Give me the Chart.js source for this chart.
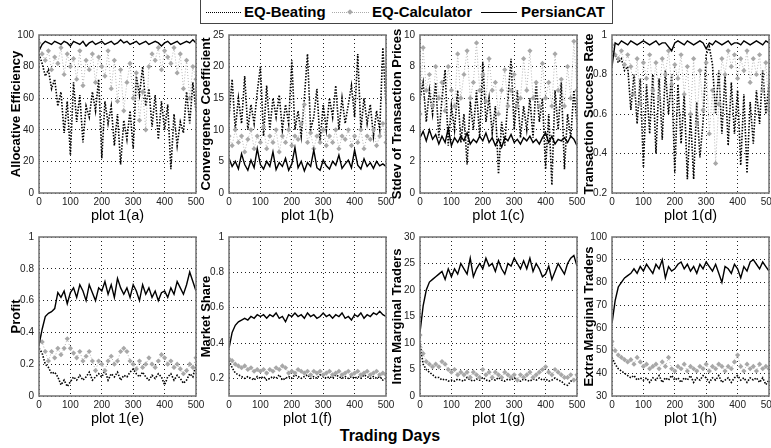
<!DOCTYPE html>
<html>
<head>
<meta charset="utf-8">
<script src="https://cdn.jsdelivr.net/npm/chart.js@4.4.1/dist/chart.umd.min.js"></script>
<style>
  html, body { margin: 0; padding: 0; background: #fff; }
  body { width: 771px; height: 448px; position: relative; overflow: hidden; font-family: "Liberation Sans", Arial, sans-serif; }
  .panel { position: absolute; }
  #legend { position: absolute; left: 200px; top: -1px; width: 411px; height: 23px; border: 1px solid #444; background: #fff; }
  #legend .smp { position: absolute; top: 12px; height: 0; }
  #legend .lbl { position: absolute; top: 3px; font-weight: bold; font-size: 15px; line-height: 18px; color: #000; }
  #legend .mk { position: absolute; top: 10px; width: 4px; height: 4px; background: #a8a8a8; transform: rotate(45deg); }
  #xtitle { position: absolute; left: 0; width: 780px; top: 427px; text-align: center; font-weight: bold; font-size: 16px; }
</style>
</head>
<body>
<div id="legend">
  <div class="smp" style="left:5px;width:35px;border-top:1.5px dotted #000;"></div>
  <div class="lbl" style="left:43px;">EQ-Beating</div>
  <div class="smp" style="left:131px;width:37px;border-top:1.5px dotted #aaa;"></div>
  <div class="mk" style="left:147px;"></div>
  <div class="lbl" style="left:171px;">EQ-Calculator</div>
  <div class="smp" style="left:280px;width:36px;border-top:1px solid #000;"></div>
  <div class="lbl" style="left:320px;">PersianCAT</div>
</div>
<div id="xtitle">Trading Days</div>

<script>
// trading days sampled every 10 days
const days = [0,10,20,30,40,50,60,70,80,90,100,110,120,130,140,150,160,170,180,190,200,210,220,230,240,250,
  260,270,280,290,300,310,320,330,340,350,360,370,380,390,400,410,420,430,440,450,460,470,480,490,500];
const xTicks = [0, 100, 200, 300, 400, 500];

// plot 1(a) Allocative Efficiency
const effBeat = [88,82,74,78,66,72,55,64,38,58, 24,70,45,62,32,55,48,64,52,72,
  22,58,44,55,30,50,18,46,34,52, 28,74,62,80,55,66,42,62,34,58, 40,56,15,50,30,45,38,64,44,70, 52];
const effCalc = [95,88,84,90,78,86,82,92,75,88, 80,85,72,90,68,84,78,88,70,86,
  80,74,90,66,84,58,78,52,70,82, 60,76,46,64,40,80,88,84,92,78, 90,86,82,92,76,88,66,84,60,80, 72];
const effCat = [90,94,96,95,94,96,95,94,96,95, 93,96,95,94,96,93,95,96,94,95,
  96,94,95,96,94,95,97,95,96,94, 95,96,94,95,96,94,95,96,95,93, 95,96,94,95,96,94,95,96,95,97, 95];

// plot 1(b) Convergence Coefficient
const convBeat = [12,18,10,15,11,18.5,10,14,11,16, 20,9,17,10,15,12,15.5,10,14,11,
  21,10,13,9,15,22,10,12,16.5,8, 14,10,15,12,17,10,15,11,14,17, 12,22,10,15,11,14,9,13,10,23, 14];
const convCalc = [9,7.5,10,8,9,6.5,8.5,10,7,9, 8,10.5,7,9,8,10,6.5,9,8,10,
  7.5,9,8.5,11,14,8,9.5,7,9,8, 10,7.5,9,8,10,7,9,8.5,10,7.5, 9,8,10,7,9,8.5,10,7.5,9,11, 8];
const convCat = [5.5,4.2,5,3.8,6.2,4.5,3.6,5.2,4,7, 4.5,3.8,5,4.2,6.5,3.7,4.8,4.2,5.5,3.6,
  4.6,7.2,4,5,3.5,4.8,4.2,6.8,4,3.6, 5.2,4.3,3.8,5,4.4,6,3.9,4.6,5.2,4, 6.8,4.4,3.8,5.4,4.2,4.8,3.9,5,4.3,4.6, 4.2];

// plot 1(c) Stdev of Transaction Prices
const stdBeat = [6,7,4.5,6.5,5,7,3.5,6,7.8,3, 5.5,4,6.5,3.2,5,1.8,5.8,4,6.5,3.5,
  8.3,4.5,6,3.8,5.5,1.2,4.5,3,6,8.5, 4,6.5,3.5,5.5,4,6,3.5,7,4.5,6, 1.5,5,0.5,6.5,4,7,1.5,5,3.5,6.5, 4.5];
const stdCalc = [5,9.2,6.5,7.5,5.5,8,6,7,5.2,8, 6.5,5.5,8.8,6,7.5,9,6,7,9.5,6.5,
  7.5,5.8,8.5,6.5,7,5,6.5,7.8,5.5,6.5, 7.5,5.5,6,8.5,6.5,9,6,7,5.5,8.2, 6,7,5.5,8.8,6.5,7.2,5.5,8,6,9.6, 6.5];
const stdCat = [3.5,3.9,3.3,4,3.4,3.7,3.1,3.6,3.2,4.1, 3,3.5,3.2,3.6,3.3,3.8,3.1,3.4,3.2,3.6,
  3.3,3.8,3.2,3.5,3,3.4,2.9,3.5,3.3,3.7, 3.2,3.4,3.1,3.5,3.3,3.6,3.2,3.4,3.1,3.5, 3.8,3.2,3.6,3.1,3.4,3.3,3.5,3.2,3.6,3.4, 3];

// plot 1(d) Transaction Success Rate
const succBeat = [0.92,0.9,0.86,0.88,0.82,0.84,0.62,0.8,0.55,0.78, 0.33,0.75,0.5,0.8,0.4,0.78,0.47,0.82,0.6,0.8,
  0.3,0.75,0.45,0.7,0.27,0.6,0.27,0.66,0.38,0.56, 0.9,0.94,0.85,0.6,0.82,0.5,0.8,0.44,0.76,0.5,
  0.72,0.34,0.7,0.3,0.66,0.45,0.72,0.55,0.82,0.6, 0.75];
const succCalc = [0.95,0.9,0.88,0.92,0.85,0.9,0.84,0.7,0.88,0.65, 0.86,0.78,0.9,0.72,0.86,0.68,0.88,0.8,0.92,0.75,
  0.85,0.78,0.9,0.7,0.84,0.6,0.88,0.55,0.82,0.62, 0.86,0.5,0.72,0.35,0.65,0.88,0.8,0.92,0.84,0.9,
  0.78,0.88,0.82,0.92,0.76,0.88,0.8,0.9,0.72,0.86, 0.62];
const succCat = [0.84,0.96,0.95,0.97,0.96,0.95,0.97,0.96,0.95,0.96, 0.97,0.96,0.95,0.96,0.97,0.95,0.96,0.96,0.94,0.92,
  0.96,0.97,0.96,0.95,0.97,0.96,0.95,0.96,0.97,0.96, 0.93,0.96,0.95,0.97,0.96,0.95,0.96,0.97,0.95,0.96,
  0.96,0.95,0.97,0.96,0.95,0.96,0.97,0.96,0.95,0.97, 0.96];

// plot 1(e) Profit
const profBeat = [0.3,0.27,0.2,0.18,0.14,0.15,0.12,0.07,0.1,0.06, 0.09,0.12,0.1,0.13,0.1,0.12,0.15,0.1,0.12,0.14,
  0.12,0.16,0.1,0.14,0.12,0.15,0.1,0.13,0.12,0.15, 0.17,0.14,0.12,0.15,0.12,0.1,0.13,0.11,0.14,0.12,
  0.07,0.12,0.14,0.1,0.13,0.11,0.08,0.1,0.14,0.12, 0.2];
const profCalc = [0.38,0.34,0.28,0.22,0.28,0.24,0.3,0.26,0.3,0.36, 0.3,0.27,0.24,0.28,0.22,0.25,0.28,0.22,0.16,0.22,
  0.2,0.16,0.22,0.25,0.2,0.22,0.28,0.3,0.28,0.22, 0.2,0.17,0.22,0.18,0.2,0.24,0.2,0.18,0.22,0.26,
  0.24,0.2,0.22,0.18,0.2,0.17,0.14,0.16,0.2,0.18, 0.24];
const profCat = [0.32,0.42,0.5,0.52,0.53,0.55,0.65,0.62,0.66,0.58, 0.65,0.68,0.62,0.7,0.66,0.6,0.7,0.65,0.6,0.68,
  0.66,0.72,0.64,0.7,0.62,0.74,0.68,0.64,0.68,0.62, 0.7,0.66,0.6,0.7,0.64,0.68,0.62,0.66,0.6,0.65,
  0.66,0.62,0.68,0.64,0.72,0.68,0.64,0.7,0.78,0.72, 0.66];

// plot 1(f) Market Share
const shareBeat = [0.3,0.26,0.23,0.22,0.21,0.2,0.21,0.2,0.19,0.21, 0.2,0.21,0.19,0.2,0.21,0.2,0.22,0.19,0.2,0.21,
  0.2,0.22,0.21,0.2,0.21,0.22,0.2,0.21,0.2,0.22, 0.21,0.2,0.21,0.2,0.22,0.21,0.2,0.21,0.2,0.21,
  0.2,0.21,0.2,0.22,0.21,0.2,0.21,0.2,0.21,0.19, 0.2];
const shareCalc = [0.31,0.3,0.28,0.27,0.26,0.27,0.25,0.26,0.24,0.25, 0.24,0.25,0.23,0.25,0.24,0.26,0.25,0.27,0.26,0.23,
  0.24,0.23,0.25,0.24,0.23,0.24,0.22,0.24,0.23,0.24, 0.22,0.23,0.24,0.22,0.23,0.24,0.22,0.23,0.24,0.22,
  0.23,0.24,0.22,0.23,0.24,0.22,0.23,0.24,0.22,0.23, 0.22];
const shareCat = [0.37,0.46,0.5,0.52,0.53,0.54,0.53,0.55,0.54,0.56, 0.55,0.56,0.54,0.56,0.55,0.57,0.54,0.55,0.52,0.56,
  0.55,0.57,0.55,0.56,0.54,0.57,0.55,0.56,0.54,0.55, 0.57,0.55,0.56,0.54,0.56,0.55,0.57,0.54,0.55,0.53,
  0.56,0.55,0.57,0.54,0.56,0.55,0.57,0.56,0.58,0.56, 0.55];

// plot 1(g) Intra Marginal Traders
const intraBeat = [10,6,5,4.5,4,3.5,3.5,3,3.2,2.8, 3,2.8,3.2,3,2.8,3.5,3,2.8,3.2,3,
  3.5,3,2.8,3.2,3,3.5,3,2.8,3.2,3, 3.4,3,2.8,3.2,3,2.8,3.2,3,3.4,3, 3.2,2.8,3,3.4,3,2.8,2.2,2,2.8,3, 3.2];
const intraCalc = [11.5,8,6.5,6,5.5,6,5.5,6.5,6,5, 4.5,5,4,4.5,4,4.5,3.5,4.5,4,3.5,
  5,4,4.5,3.5,4.5,4,3.5,4.5,4,3.5, 4,3,4,3.5,4,4.5,3.5,4,4.5,5, 5.5,4.5,4,5,4.5,4,3.5,3.5,4,3, 4];
const intraCat = [12,17,20,21.5,22,22.5,23,23.5,22,24, 22.5,24,23,25,24,23,26,22.5,24,25,
  24,26,24.5,25,23.5,25.5,24,23,25,24.5, 26,25,24,25.5,24,26,23.5,25,24,22.5, 23,24.5,22,23.5,25,24,23,25,26,26.5, 24.5];

// plot 1(h) Extra Marginal Traders
const extraBeat = [47,44,42,41,40,39,38,39,37,38, 37,38,36,38,37,39,36,38,37,39,
  37,38,36,38,37,39,36,38,37,39, 38,36,38,37,39,36,37,38,36,38, 39,37,38,36,38,37,38,36,38,35, 37];
const extraCalc = [54,50,48,47,46,45,46,44,47,45, 43,44,42,43,44,42,45,43,47,42,
  41,43,42,44,41,43,42,41,43,42, 44,41,43,42,44,43,41,43,42,45, 48,43,41,44,42,43,41,44,42,43, 42];
const extraCat = [62,72,78,80,82,83,84,86,84,87, 85,88,86,84,88,86,90,82,87,85,
  86,88,89,86,88,85,87,84,88,86, 89,87,85,88,84,80,87,86,84,88, 86,82,87,85,89,90,88,86,89,87, 85];

// y tick labels per plot
const ticksEff = [0, 20, 40, 60, 80, 100];
const ticksConv = [0, 5, 10, 15, 20, 25];
const ticksStd = [0, 2, 4, 6, 8, 10];
const ticksSucc = [0.2, 0.4, 0.6, 0.8, 1];
const ticksProf = [0, 0.2, 0.4, 0.6, 0.8, 1];
const ticksShare = [0.2, 0.4, 0.6, 0.8, 1];
const ticksIntra = [0, 5, 10, 15, 20, 25, 30];
const ticksExtra = [30, 40, 50, 60, 70, 80, 90, 100];

Chart.defaults.font.family = "'Liberation Sans', Arial, sans-serif";
Chart.defaults.color = '#000';

const Y_W = 34, X_H = 32, PAD_T = 8, PAD_R = 12, PLOT_W = 157;

// matlab style box round the axes
const boxPlugin = {
  id: 'box',
  afterDatasetsDraw(chart) {
    const { ctx, chartArea: a } = chart;
    ctx.save();
    ctx.strokeStyle = '#7a7a7a';
    ctx.lineWidth = 1.6;
    ctx.strokeRect(a.left, a.top, a.right - a.left, a.bottom - a.top);
    ctx.restore();
  }
};

const panels = [
  { left: 39, top: 32, h: 161, title: 'Allocative Efficiency', label: 'plot 1(a)', min: 0, max: 100, ticks: ticksEff, beat: effBeat, calc: effCalc, cat: effCat },
  { left: 229, top: 32, h: 161, title: 'Convergence Coefficient', label: 'plot 1(b)', min: 0, max: 25, ticks: ticksConv, beat: convBeat, calc: convCalc, cat: convCat },
  { left: 420, top: 32, h: 161, title: 'Stdev of Transaction Prices', label: 'plot 1(c)', min: 0, max: 10, ticks: ticksStd, beat: stdBeat, calc: stdCalc, cat: stdCat },
  { left: 612, top: 32, h: 161, title: 'Transaction Success Rate', label: 'plot 1(d)', min: 0.2, max: 1, ticks: ticksSucc, beat: succBeat, calc: succCalc, cat: succCat },
  { left: 39, top: 234, h: 162, title: 'Profit', label: 'plot 1(e)', min: 0, max: 1, ticks: ticksProf, beat: profBeat, calc: profCalc, cat: profCat },
  { left: 229, top: 234, h: 162, title: 'Market Share', label: 'plot 1(f)', min: 0.1, max: 1, ticks: ticksShare, beat: shareBeat, calc: shareCalc, cat: shareCat },
  { left: 420, top: 234, h: 162, title: 'Intra Marginal Traders', label: 'plot 1(g)', min: 0, max: 30, ticks: ticksIntra, beat: intraBeat, calc: intraCalc, cat: intraCat },
  { left: 612, top: 234, h: 162, title: 'Extra Marginal Traders', label: 'plot 1(h)', min: 30, max: 100, ticks: ticksExtra, beat: extraBeat, calc: extraCalc, cat: extraCat }
];

const pts = arr => days.map((d, i) => ({ x: d, y: arr[i] }));

panels.forEach(p => {
  const canvas = document.createElement('canvas');
  const w = Y_W + PLOT_W + PAD_R, h = PAD_T + p.h + X_H;
  canvas.width = w;
  canvas.height = h;
  canvas.className = 'panel';
  canvas.style.left = (p.left - Y_W) + 'px';
  canvas.style.top = (p.top - PAD_T) + 'px';
  canvas.style.width = w + 'px';
  canvas.style.height = h + 'px';
  document.body.appendChild(canvas);

  new Chart(canvas.getContext('2d'), {
    type: 'line',
    data: {
      datasets: [
        { label: 'PersianCAT', data: pts(p.cat), borderColor: '#000', borderWidth: 1.4, pointRadius: 0, order: 0 },
        { label: 'EQ-Calculator', data: pts(p.calc), borderColor: '#b4b4b4', borderWidth: 1, borderDash: [1, 2],
          pointRadius: 2.6, pointStyle: 'rectRot', pointBackgroundColor: '#a8a8a8', pointBorderWidth: 0, order: 1 },
        { label: 'EQ-Beating', data: pts(p.beat), borderColor: '#000', borderWidth: 1.6, borderDash: [1.5, 1.5], pointRadius: 0, order: 2 }
      ]
    },
    options: {
      responsive: false,
      animation: false,
      events: [],
      layout: { padding: { top: PAD_T, right: PAD_R, left: 0, bottom: 0 } },
      plugins: { legend: { display: false }, tooltip: { enabled: false } },
      elements: { line: { tension: 0 } },
      scales: {
        x: {
          type: 'linear', min: 0, max: 500,
          afterBuildTicks: s => { s.ticks = xTicks.map(v => ({ value: v })); },
          afterFit: s => { s.height = X_H; },
          ticks: { font: { size: 10 }, padding: 3, maxRotation: 0, color: '#222' },
          grid: { color: '#222', lineWidth: 1, drawTicks: false },
          border: { display: false, dash: [1, 3] },
          title: { display: true, text: p.label, font: { size: 14.5 }, padding: { top: 0, bottom: 0 } }
        },
        y: {
          type: 'linear', min: p.min, max: p.max,
          afterBuildTicks: s => { s.ticks = p.ticks.map(v => ({ value: v })); },
          afterFit: s => { s.width = Y_W; },
          ticks: { font: { size: 10 }, padding: 5, color: '#222', callback: v => String(+v.toFixed(2)) },
          grid: { color: '#222', lineWidth: 1, drawTicks: false },
          border: { display: false, dash: [1, 3] },
          title: { display: true, text: p.title, font: { size: 13, weight: 'bold' }, padding: { top: 4, bottom: 0 } }
        }
      }
    },
    plugins: [boxPlugin]
  });
});
</script>
</body>
</html>
